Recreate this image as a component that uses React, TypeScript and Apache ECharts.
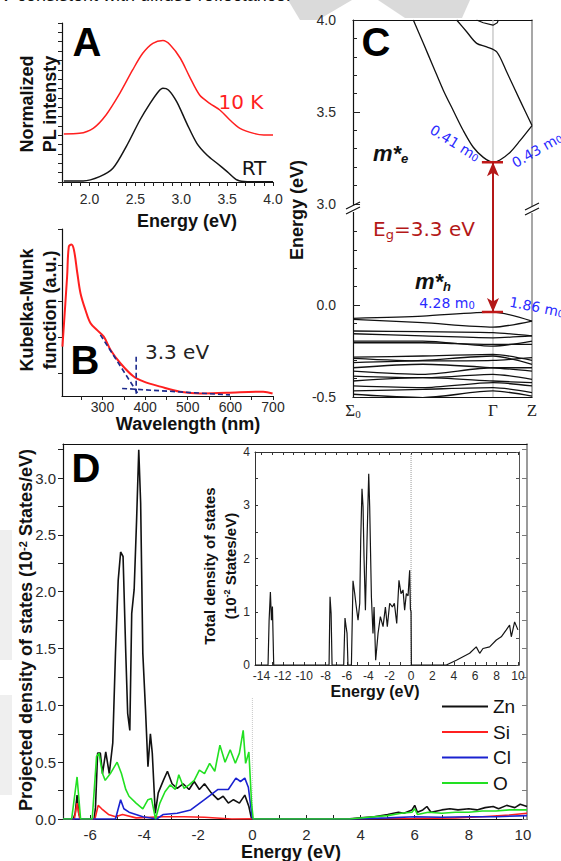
import React, { useEffect, useRef } from "react";
import * as echarts from "echarts";

// ---------------- Panel A : PL spectra ----------------
const plTickLabels = [2.0, 2.5, 3.0, 3.5, 4.0];
const plRT: number[][] = [
  [1.72, 0.11], [1.93, 0.11], [2.11, 0.57], [2.255, 1.46], [2.4, 3.78], [2.55, 6.63], [2.66, 8.41],
  [2.75, 9.66], [2.8, 10.02], [2.86, 9.84], [2.95, 8.59], [3.06, 6.27], [3.17, 4.14], [3.28, 2.89],
  [3.39, 2.0], [3.5, 1.11], [3.61, 0.21], [3.72, 0.04], [4.0, 0.04],
];
const pl10K: number[][] = [
  [1.72, 5.13], [1.89, 5.2], [2.04, 5.74], [2.18, 7.17], [2.33, 9.48], [2.47, 11.98], [2.58, 13.76],
  [2.69, 14.83], [2.8, 15.12], [2.88, 14.65], [2.99, 13.23], [3.09, 11.27], [3.2, 9.3], [3.31, 8.41],
  [3.42, 7.7], [3.53, 6.63], [3.64, 5.74], [3.79, 5.2], [3.9, 5.03], [4.0, 5.03],
];

// ---------------- Panel B : Kubelka-Munk ----------------
const kmTickLabels = [300, 400, 500, 600, 700];
const kmCurve: number[][] = [
  [206, 0.73], [217, 2.68], [221, 3.51], [227, 3.57], [233, 3.42], [241, 2.77], [248.5, 2.21],
  [260, 1.75], [272, 1.38], [287.5, 1.19], [303, 1.01], [319, 0.64], [342, 0.27], [373, -0.1],
  [397, -0.24], [436, -0.38], [482, -0.52], [529, -0.57], [592, -0.55], [677, -0.52], [699, -0.57],
];
const kmTangent: number[][] = [[295, 1.06], [385, -0.61]];
const kmBaseline: number[][] = [[346, -0.43], [599, -0.61]];
const kmOnset: number[][] = [[379, 0.45], [379, -0.61]];

// ---------------- Panel C : band structure ----------------
const kPointNames = ["Σ0", "Γ", "Z"];
const kPointPos = [0, 0.782, 1];
const vbK = [0, 0.39, 0.782, 1.0];
const valenceBands: number[][] = [
  [-0.072, -0.06, -0.038, -0.087],
  [-0.078, -0.096, -0.12, -0.087],
  [-0.141, -0.145, -0.15, -0.168],
  [-0.156, -0.168, -0.178, -0.168],
  [-0.196, -0.196, -0.223, -0.196],
  [-0.205, -0.205, -0.214, -0.214],
  [-0.283, -0.277, -0.268, -0.301],
  [-0.29, -0.304, -0.301, -0.286],
  [-0.313, -0.301, -0.277, -0.322],
  [-0.341, -0.322, -0.341, -0.359],
  [-0.359, -0.377, -0.341, -0.341],
  [-0.386, -0.395, -0.377, -0.404],
  [-0.413, -0.395, -0.413, -0.422],
  [-0.44, -0.449, -0.422, -0.44],
  [-0.467, -0.458, -0.449, -0.476],
  [-0.485, -0.503, -0.467, -0.495],
];
const cb1K = [0.337, 0.393, 0.449, 0.505, 0.56, 0.616, 0.672, 0.728, 0.782, 0.821, 0.877, 0.933, 1.0];
const cb1E = [4.0, 3.873, 3.745, 3.617, 3.508, 3.399, 3.308, 3.253, 3.226, 3.239, 3.28, 3.344, 3.426];
const cb2K = [0.579, 0.635, 0.691, 0.747, 0.803, 0.859, 0.933, 1.0];
const cb2E = [4.0, 3.936, 3.873, 3.854, 3.827, 3.717, 3.563, 3.426];
const cb3K = [0.69, 0.728, 0.782, 0.806, 0.812];
const cb3E = [4.0, 3.985, 3.972, 3.985, 4.0];
const cbmE = 3.226;
const vbmE = -0.038;
const cMajorE = [-0.5, 0.0, 3.0, 3.5, 4.0];
const cMinorE = [-0.4, -0.3, -0.2, -0.1, 0.1, 0.2, 0.3, 0.4, 3.1, 3.2, 3.3, 3.4, 3.6, 3.7, 3.8, 3.9];

// ---------------- Panel D : PDOS ----------------
const dosTickLabels = [-6, -4, -2, 0, 2, 4, 6, 8, 10];
const znPdos: number[][] = [
  [-7, 0], [-6.62, 0], [-6.55, 0.05], [-6.48, 0.21], [-6.42, 0.05], [-6.35, 0], [-5.85, 0], [-5.8, 0.1],
  [-5.72, 0.58], [-5.62, 0.58], [-5.54, 0.4], [-5.42, 0.59], [-5.29, 0.4], [-5.16, 0.67], [-5.06, 1.46],
  [-4.96, 2.1], [-4.87, 2.35], [-4.78, 2.31], [-4.68, 1.46], [-4.61, 0.93], [-4.53, 0.78], [-4.46, 1.81],
  [-4.37, 2.02], [-4.28, 2.63], [-4.2, 3.25], [-4.13, 2.78], [-4.05, 1.46], [-3.95, 0.96], [-3.86, 0.46],
  [-3.77, 0.75], [-3.7, 0.58], [-3.59, 0.05], [-3.48, 0.23], [-3.29, 0.34], [-3.14, 0.42], [-2.97, 0.31],
  [-2.78, 0.27], [-2.56, 0.31], [-2.34, 0.26], [-2.15, 0.33], [-1.96, 0.26], [-1.77, 0.31], [-1.52, 0.23],
  [-1.27, 0.17], [-1.08, 0.2], [-0.89, 0.14], [-0.7, 0.17], [-0.48, 0.14], [-0.28, 0.21], [-0.13, 0.11],
  [-0.03, 0], [3.5, 0], [4.0, 0.01], [4.5, 0.02], [5.0, 0.04], [5.4, 0.06], [5.6, 0.05], [5.9, 0.08],
  [6.0, 0.12], [6.1, 0.06], [6.3, 0.08], [6.45, 0.11], [6.6, 0.06], [7.0, 0.08], [7.3, 0.09], [7.6, 0.08],
  [8.0, 0.09], [8.3, 0.08], [8.6, 0.1], [8.9, 0.11], [9.1, 0.09], [9.4, 0.12], [9.7, 0.1], [9.9, 0.13],
  [10.15, 0.11],
];
const siPdos: number[][] = [
  [-7, 0], [-6.58, 0], [-6.48, 0.14], [-6.38, 0], [-5.82, 0], [-5.7, 0.12], [-5.57, 0.09], [-5.32, 0.04],
  [-5.06, 0.02], [-4.8, 0.04], [-4.3, 0.01], [-3.29, 0.02], [-2.53, 0.02], [-1.77, 0.015], [-0.76, 0],
  [6.0, 0.005], [7.5, 0.01], [8.5, 0.02], [9.5, 0.035], [10.15, 0.05],
];
const clPdos: number[][] = [
  [-7, 0], [-5.06, 0], [-4.87, 0.17], [-4.75, 0.09], [-4.56, 0.06], [-4.05, 0.02], [-3.54, 0],
  [-3.29, 0.04], [-2.78, 0.05], [-2.28, 0.08], [-1.77, 0.17], [-1.27, 0.26], [-0.89, 0.26], [-0.61, 0.36],
  [-0.44, 0.33], [-0.28, 0.36], [-0.15, 0.28], [-0.06, 0.11], [0.0, 0], [3.8, 0], [5.0, 0.01],
  [6.0, 0.02], [7.0, 0.015], [8.0, 0.02], [9.0, 0.02], [10.15, 0.03],
];
const oPdos: number[][] = [
  [-7, 0], [-6.68, 0], [-6.48, 0.37], [-6.35, 0], [-5.92, 0], [-5.76, 0.55], [-5.67, 0.58], [-5.54, 0.4],
  [-5.44, 0.34], [-5.25, 0.4], [-5.0, 0.5], [-4.84, 0.4], [-4.68, 0.26], [-4.56, 0.2], [-4.3, 0.14],
  [-4.05, 0.09], [-3.86, 0.17], [-3.73, 0.18], [-3.58, 0], [-3.42, 0.14], [-3.23, 0.24], [-3.04, 0.3],
  [-2.85, 0.26], [-2.72, 0.39], [-2.53, 0.27], [-2.34, 0.3], [-2.15, 0.34], [-1.96, 0.43], [-1.77, 0.4],
  [-1.58, 0.49], [-1.39, 0.42], [-1.2, 0.65], [-1.01, 0.5], [-0.82, 0.61], [-0.63, 0.49], [-0.48, 0.58],
  [-0.34, 0.78], [-0.25, 0.49], [-0.13, 0.59], [-0.03, 0.14], [0.03, 0], [3.6, 0], [4.5, 0.02],
  [5.0, 0.03], [5.5, 0.05], [5.9, 0.06], [6.0, 0.09], [6.1, 0.04], [6.5, 0.06], [7.0, 0.05], [7.5, 0.06],
  [8.0, 0.06], [8.5, 0.07], [9.0, 0.07], [9.5, 0.08], [10.15, 0.08],
];
const insetTickLabels = [-14, -12, -10, -8, -6, -4, -2, 0, 2, 4, 6, 8, 10];
const totalDos: number[][] = [
  [-14.6, 0], [-13.38, 0], [-13.28, 0.84], [-13.16, 1.37], [-13.06, 0.84], [-12.97, 1.1], [-12.85, 0],
  [-7.67, 0], [-7.58, 1.28], [-7.48, 0.97], [-7.39, 0], [-6.3, 0], [-6.18, 0.88], [-6.08, 0.72],
  [-5.99, 0.6], [-5.9, 0], [-5.58, 0], [-5.43, 1.58], [-5.27, 1.34], [-5.12, 1.09], [-4.96, 0.84],
  [-4.8, 1.16], [-4.71, 2.34], [-4.59, 3.31], [-4.49, 2.97], [-4.4, 2.03], [-4.27, 1.03], [-4.12, 2.34],
  [-3.96, 3.59], [-3.87, 2.97], [-3.71, 1.28], [-3.56, 0.59], [-3.46, 1.09], [-3.31, 0.09], [-3.09, 0.59],
  [-2.87, 0.91], [-2.62, 0.72], [-2.4, 1.09], [-2.22, 0.72], [-2.0, 1.16], [-1.75, 1.09], [-1.56, 1.16],
  [-1.34, 0.78], [-1.13, 1.59], [-0.94, 1.34], [-0.75, 1.41], [-0.6, 1.03], [-0.44, 1.34], [-0.28, 1.3],
  [-0.13, 1.78], [-0.06, 1.05], [0.0, 1.0], [0.03, 0], [3.3, 0], [4.24, 0.09], [5.48, 0.22], [6.1, 0.34],
  [6.42, 0.22], [6.73, 0.31], [7.35, 0.34], [7.98, 0.47], [8.44, 0.53], [8.91, 0.66], [9.22, 0.75],
  [9.38, 0.53], [9.69, 0.81], [10.0, 0.66],
];

// ---------------- helpers ----------------
const FONT = "'Liberation Sans', Arial, sans-serif";
const DV = "'DejaVu Sans', sans-serif";
const SERIF = "'Liberation Serif', 'DejaVu Serif', serif";
const BREAK_SHIFT = 2.45;
const toDisp = (e: number) => (e > 1.5 ? e - BREAK_SHIFT : e);
const range = (a: number, b: number, s: number) => {
  const out: number[] = [];
  for (let v = a; v <= b + 1e-9; v += s) out.push(Math.round(v * 1000) / 1000);
  return out;
};
const zip = (xs: number[], ys: number[], f = (y: number) => y) => xs.map((x, i) => [x, f(ys[i])]);

const txt = (x: number, y: number, text: string, o: any = {}) => {
  const align = o.align || "center";
  return {
    type: "text",
    x,
    y,
    z: 100,
    silent: true,
    rotation: o.rot || 0,
    style: {
      text,
      fill: o.color || "#111",
      fontSize: o.size || 14,
      fontWeight: o.weight || "normal",
      fontStyle: o.italic ? "italic" : "normal",
      fontFamily: o.family || FONT,
      align,
      textAlign: align,
      verticalAlign: "middle",
      textVerticalAlign: "middle",
      rich: o.rich,
    },
  };
};
const seg = (x1: number, y1: number, x2: number, y2: number, color = "#111", w = 1.2) => ({
  type: "line",
  z: 101,
  silent: true,
  shape: { x1, y1, x2, y2 },
  style: { stroke: color, lineWidth: w },
});

const noSplit = { splitLine: { show: false } };
const line = (c = "#111", w = 1.2) => ({ onZero: false, lineStyle: { color: c, width: w } });
const label = (vals: number[], fmt: any, size: number, margin: number) => ({
  customValues: vals,
  formatter: fmt,
  fontSize: size,
  color: "#2a2a2a",
  margin,
  fontFamily: FONT,
});

const supRich = (size: number) => ({
  sup: { fontSize: Math.round(size * 0.62), fontWeight: "bold", fontFamily: FONT, verticalAlign: "top", lineHeight: size * 0.7 },
});
const subBlue = { s: { fontSize: 10, fontFamily: DV, fill: "#2a2aff", verticalAlign: "bottom", lineHeight: 9 } };

function buildOption() {
  const gamma = kPointPos[1];
  const cbm = toDisp(cbmE);

  const series: any[] = [];
  const plain = (xi: number, yi: number, data: number[][], color: string, w: number, extra: any = {}) =>
    series.push({
      type: "line",
      xAxisIndex: xi,
      yAxisIndex: yi,
      data,
      symbol: "none",
      silent: true,
      color,
      ...extra,
      lineStyle: { color, width: w, ...(extra.lineStyle || {}) },
    });

  // A
  plain(0, 0, plRT, "#151515", 1.5, { smooth: 0.3 });
  plain(0, 0, pl10K, "#ff1f1f", 1.5, { smooth: 0.3 });
  // B
  plain(1, 1, kmCurve, "#ff1f1f", 2, { smooth: 0.35 });
  plain(1, 1, kmTangent, "#1c2a8c", 1.6, { lineStyle: { type: [5, 3] } });
  plain(1, 1, kmBaseline, "#1c2a8c", 1.6, { lineStyle: { type: [5, 3] } });
  plain(1, 1, kmOnset, "#1c2a8c", 1.6, { lineStyle: { type: [5, 3] } });
  // C
  plain(2, 2, [[gamma, -0.5], [gamma, 1.55]], "#bdbdbd", 1.2, {
    markLine: {
      silent: true,
      symbol: ["arrow", "arrow"],
      symbolSize: [9, 14],
      label: { show: false },
      lineStyle: { color: "#b41818", width: 2, type: "solid" },
      data: [[{ coord: [gamma, cbm] }, { coord: [gamma, vbmE] }]],
    },
  });
  valenceBands.forEach((b) => plain(2, 2, zip(vbK, b), "#111", 1.3, { smooth: 0.25 }));
  plain(2, 2, zip(cb1K, cb1E, toDisp), "#111", 1.3, { smooth: 0.3 });
  plain(2, 2, zip(cb2K, cb2E, toDisp), "#111", 1.3, { smooth: 0.3 });
  plain(2, 2, zip(cb3K, cb3E, toDisp), "#111", 1.2);
  plain(2, 2, [[0.72, cbm], [0.838, cbm]], "#c01818", 2.5);
  plain(2, 2, [[0.72, vbmE], [0.838, vbmE]], "#c01818", 2.5);
  // D
  plain(4, 5, [[0, 0], [0, 1.07]], "#c8c8c8", 1, { lineStyle: { type: "dotted" } });
  const names = ["Zn", "Si", "Cl", "O"];
  const dats = [znPdos, siPdos, clPdos, oPdos];
  const cols = ["#111111", "#ff2020", "#1a22d0", "#22e022"];
  names.forEach((n, i) =>
    series.push({
      name: n,
      type: "line",
      xAxisIndex: 4,
      yAxisIndex: 5,
      data: dats[i],
      symbol: "none",
      silent: true,
      color: cols[i],
      lineStyle: { color: cols[i], width: 1.6 },
    })
  );
  // inset
  plain(6, 7, [[0, 0], [0, 4]], "#999", 1, { lineStyle: { type: "dotted" } });
  plain(6, 7, totalDos, "#151515", 1.2);

  const cMajor = cMajorE.map(toDisp);
  const cMinor = cMinorE.map(toDisp);

  const xAxis: any[] = [
    { type: "value", gridIndex: 0, position: "bottom", min: 1.7, max: 4.0, ...noSplit, axisLine: line(),
      axisTick: { customValues: range(1.7, 4.0, 0.1), length: 4, lineStyle: { color: "#222" } },
      axisLabel: label(plTickLabels, (v: number) => v.toFixed(1), 14, 10) },
    { type: "value", gridIndex: 1, position: "bottom", min: 205, max: 700, ...noSplit, axisLine: line(),
      axisTick: { customValues: range(250, 700, 50), length: 4, lineStyle: { color: "#222" } },
      axisLabel: label(kmTickLabels, (v: number) => String(v), 14, 4) },
    { type: "value", gridIndex: 2, position: "bottom", min: 0, max: 1, ...noSplit, axisLine: line(),
      axisTick: { show: false },
      axisLabel: {
        customValues: kPointPos,
        margin: 5,
        formatter: (v: number) => {
          const n = kPointNames[kPointPos.indexOf(v)] || "";
          return n.length > 1 ? `{s|${n[0]}}{z|${n.slice(1)}}` : `{s|${n}}`;
        },
        rich: {
          s: { fontFamily: SERIF, fontSize: 17, color: "#222" },
          z: { fontFamily: SERIF, fontSize: 11, color: "#222", verticalAlign: "bottom", lineHeight: 11 },
        },
      } },
    { type: "value", gridIndex: 2, position: "top", min: 0, max: 1, ...noSplit, axisLine: line(),
      axisTick: { show: false }, axisLabel: { show: false } },
    { type: "value", gridIndex: 3, position: "bottom", min: -7, max: 10.15, ...noSplit, axisLine: line(),
      axisTick: { customValues: range(-7, 10, 1), inside: true, length: 4, lineStyle: { color: "#222" } },
      axisLabel: label(dosTickLabels, (v: number) => String(v), 15, 8) },
    { type: "value", gridIndex: 3, position: "top", min: -7, max: 10.15, ...noSplit, axisLine: line(),
      axisTick: { show: false }, axisLabel: { show: false } },
    { type: "value", gridIndex: 4, position: "bottom", min: -14.6, max: 10.1, ...noSplit, axisLine: line("#333", 1),
      axisTick: { customValues: range(-14, 10, 1), inside: true, length: 3, lineStyle: { color: "#333" } },
      axisLabel: label(insetTickLabels, (v: number) => String(v), 12, 5) },
    { type: "value", gridIndex: 4, position: "top", min: -14.6, max: 10.1, ...noSplit, axisLine: line("#333", 1),
      axisTick: { customValues: range(-14, 10, 1), inside: true, length: 3, lineStyle: { color: "#333" } },
      axisLabel: { show: false } },
  ];

  const yAxis: any[] = [
    { type: "value", gridIndex: 0, position: "left", min: 0, max: 17, ...noSplit, axisLine: line(),
      axisTick: { customValues: range(0, 17, 1), length: 4, lineStyle: { color: "#222" } }, axisLabel: { show: false } },
    { type: "value", gridIndex: 1, position: "left", min: -0.64, max: 4, ...noSplit, axisLine: line(),
      axisTick: { customValues: [0, 1, 2, 3, 4], length: 4, lineStyle: { color: "#222" } }, axisLabel: { show: false } },
    { type: "value", gridIndex: 2, position: "left", min: -0.5, max: 1.55, ...noSplit, axisLine: line(),
      axisTick: { customValues: cMajor, inside: true, length: 7, lineStyle: { color: "#222" } },
      axisLabel: label(cMajor, (v: number) => (v > 0.3 ? v + BREAK_SHIFT : v).toFixed(1), 14, 17) },
    { type: "value", gridIndex: 2, position: "left", min: -0.5, max: 1.55, ...noSplit, axisLine: { show: false, onZero: false },
      axisTick: { customValues: cMinor, inside: true, length: 4, lineStyle: { color: "#222" } }, axisLabel: { show: false } },
    { type: "value", gridIndex: 2, position: "right", min: -0.5, max: 1.55, ...noSplit, axisLine: line("#8a8a8a", 1.5),
      axisTick: { show: false }, axisLabel: { show: false } },
    { type: "value", gridIndex: 3, position: "left", min: 0, max: 3.3, ...noSplit, axisLine: line(),
      axisTick: { customValues: range(0, 3.25, 0.25), length: 5, lineStyle: { color: "#222" } },
      axisLabel: label(range(0, 3, 0.5), (v: number) => v.toFixed(1), 15, 7) },
    { type: "value", gridIndex: 3, position: "right", min: 0, max: 3.3, ...noSplit, axisLine: line("#7a7a7a", 1.5),
      axisTick: { customValues: range(0, 3.25, 0.25), inside: true, length: 5, lineStyle: { color: "#7a7a7a" } },
      axisLabel: { show: false } },
    { type: "value", gridIndex: 4, position: "left", min: 0, max: 4, ...noSplit, axisLine: line("#333", 1),
      axisTick: { customValues: range(0, 4, 0.5), inside: true, length: 3, lineStyle: { color: "#333" } },
      axisLabel: label([0, 1, 2, 3, 4], (v: number) => String(v), 12, 5) },
    { type: "value", gridIndex: 4, position: "right", min: 0, max: 4, ...noSplit, axisLine: line("#555", 1),
      axisTick: { customValues: range(0, 4, 0.5), inside: true, length: 3, lineStyle: { color: "#555" } },
      axisLabel: { show: false } },
  ];

  const big = (x: number, y: number, t: string) => txt(x, y, t, { size: 40, weight: "bold", color: "#000" });
  const bold18 = { size: 18, weight: "bold", color: "#111" };
  const m0 = (x: number, y: number, t: string, deg: number) =>
    txt(x, y, `${t} m{s|0}`, { size: 14, color: "#2a2aff", family: DV, rot: (deg * Math.PI) / 180, rich: subBlue });
  const mStar = (x: number, y: number, sub: string) =>
    txt(x, y, `{m|m*}{e|${sub}}`, {
      align: "left",
      rich: {
        m: { fontSize: 22, fontWeight: "bold", fontStyle: "italic", fontFamily: FONT, fill: "#111", lineHeight: 24 },
        e: { fontSize: 13, fontWeight: "bold", fontStyle: "italic", fontFamily: FONT, fill: "#111", verticalAlign: "bottom", lineHeight: 13 },
      },
    });

  const graphic: any[] = [
    // faint watermark fragments
    { type: "polygon", z: 0, silent: true, shape: { points: [[288, 0], [352, 0], [318, 20], [300, 20]] }, style: { fill: "#dadada" } },
    { type: "polygon", z: 0, silent: true, shape: { points: [[378, 0], [470, 0], [462, 18], [405, 18]] }, style: { fill: "#dadada" } },
    { type: "rect", z: 0, silent: true, shape: { x: 0, y: 530, width: 12, height: 130 }, style: { fill: "#efefef" } },
    { type: "rect", z: 0, silent: true, shape: { x: 0, y: 695, width: 12, height: 100 }, style: { fill: "#efefef" } },
    // cut-off caption line at top
    txt(-13, -5, "UV consistent with diffuse reflectance.", { size: 18, align: "left", color: "#111" }),
    // Panel A
    big(87, 42, "A"),
    txt(27, 104, "Normalized", { ...bold18, rot: Math.PI / 2 }),
    txt(50, 104, "PL intensty", { ...bold18, rot: Math.PI / 2 }),
    txt(241, 102, "10 K", { size: 20, color: "#ff1f1f", family: DV }),
    txt(254, 168, "RT", { size: 20, color: "#151515", family: DV }),
    txt(187, 221, "Energy (eV)", bold18),
    // Panel B
    big(85, 360, "B"),
    txt(27, 310, "Kubelka-Munk", { ...bold18, rot: Math.PI / 2 }),
    txt(50, 310, "function (a.u.)", { ...bold18, rot: Math.PI / 2 }),
    txt(177, 352, "3.3 eV", { size: 20, color: "#222", family: DV }),
    txt(188, 424, "Wavelength (nm)", bold18),
    // Panel C
    big(376, 42, "C"),
    txt(297, 210, "Energy (eV)", { ...bold18, rot: Math.PI / 2 }),
    mStar(373, 153, "e"),
    mStar(415, 281, "h"),
    txt(424, 229, "{e|E}{g|g}{e|=3.3 eV}", {
      rich: {
        e: { fontSize: 20, fontFamily: DV, fill: "#b41818", lineHeight: 24 },
        g: { fontSize: 13, fontFamily: DV, fill: "#b41818", verticalAlign: "bottom", lineHeight: 12 },
      },
    }),
    m0(455, 143, "0.41", -32),
    m0(537, 150, "0.43", 30),
    m0(447, 303, "4.28", 0),
    m0(537, 307, "1.86", -11),
    // axis break marks
    { type: "rect", z: 100, silent: true, shape: { x: 350, y: 205, width: 6, height: 7 }, style: { fill: "#fff" } },
    { type: "rect", z: 100, silent: true, shape: { x: 529, y: 206, width: 6, height: 7 }, style: { fill: "#fff" } },
    seg(346, 209, 360, 202),
    seg(346, 214, 360, 207),
    seg(525, 210, 539, 203),
    seg(525, 215, 539, 208),
    // Panel D
    big(86, 468, "D"),
    txt(26, 630, "Projected density of states (10{sup|-2} States/eV)", { ...bold18, rot: Math.PI / 2, rich: supRich(18) }),
    txt(291, 852, "Energy (eV)", bold18),
    // inset titles
    txt(209, 566, "Total density of states", { size: 15, weight: "bold", rot: Math.PI / 2 }),
    txt(230, 566, "(10{sup|-2} States/eV)", { size: 15, weight: "bold", rot: Math.PI / 2, rich: supRich(15) }),
    txt(375, 691, "Energy (eV)", { size: 16, weight: "bold" }),
  ];

  return {
    animation: false,
    backgroundColor: "#ffffff",
    textStyle: { fontFamily: FONT },
    grid: [
      { left: 62, top: 23, width: 211, height: 159 },
      { left: 62, top: 229, width: 211, height: 167 },
      { left: 353, top: 20, width: 179, height: 377 },
      { left: 63, top: 444, width: 464, height: 375 },
      { left: 255, top: 452, width: 264, height: 213 },
    ],
    legend: {
      data: ["Zn", "Si", "Cl", "O"],
      orient: "vertical",
      left: 442,
      top: 697,
      itemWidth: 46,
      itemHeight: 2,
      itemGap: 6.5,
      icon: "rect",
      selectedMode: false,
      padding: 0,
      textStyle: { fontSize: 19, color: "#111", lineHeight: 19, fontFamily: FONT },
    },
    xAxis,
    yAxis,
    series,
    graphic: { elements: graphic },
  };
}

export default function App() {
  const ref = useRef<HTMLDivElement>(null);
  useEffect(() => {
    const chart = echarts.init(ref.current!, null, { renderer: "svg" });
    chart.setOption(buildOption() as any);
    return () => chart.dispose();
  }, []);
  return (
    <div
      ref={ref}
      style={{ position: "absolute", left: 0, top: 0, width: 561, height: 861, background: "#fff" }}
    />
  );
}
